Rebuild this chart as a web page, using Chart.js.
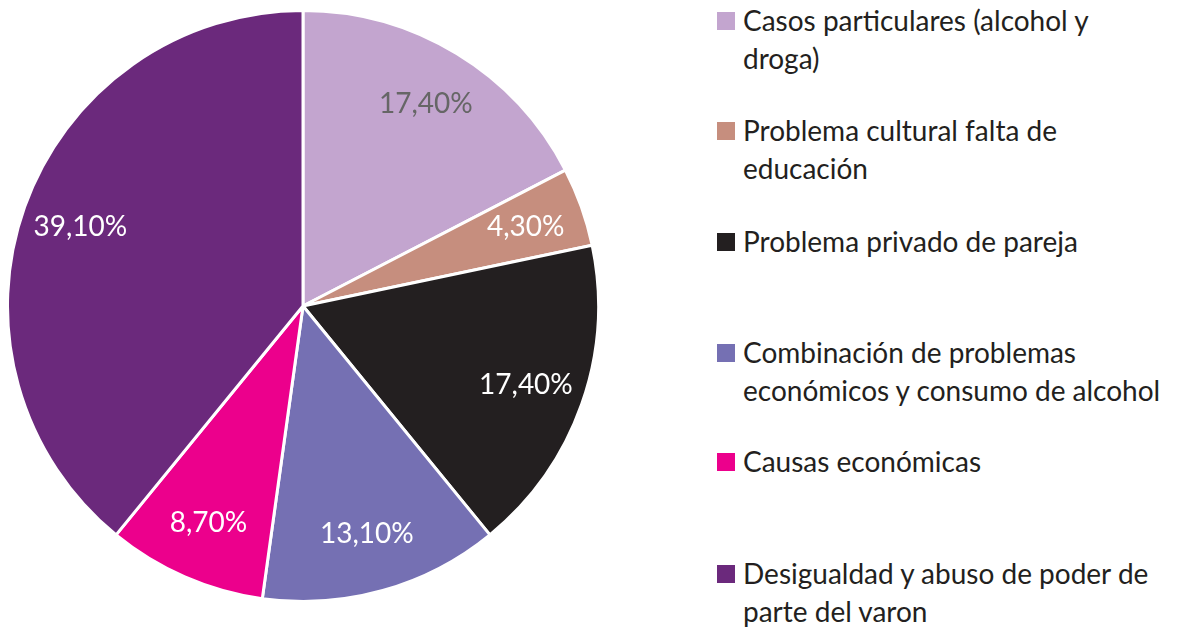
<!DOCTYPE html>
<html>
<head>
<meta charset="utf-8">
<script src="https://cdn.jsdelivr.net/npm/chart.js@4"></script>
<style>
  body { margin: 0; background: #fff; width: 1196px; height: 627px; overflow: hidden; position: relative; font-family: Lato, "Open Sans", sans-serif; }
  #wrap { position: absolute; left: 6px; top: 9px; width: 594px; height: 594px; }
  .leg { position: absolute; left: 717px; font-size: 28px; line-height: 38px; color: #231F20; width: 475px; white-space: nowrap; }
  .leg span.box { position: absolute; left: 0; top: 11px; width: 18px; height: 18px; }
  .leg div.txt { margin-left: 26px; }
</style>
</head>
<body>
<div id="wrap"><canvas id="pie"></canvas></div>
<div id="legend"></div>
<script>
// chart data
const labels = [
  "Casos particulares (alcohol y droga)",
  "Problema cultural falta de educación",
  "Problema privado de pareja",
  "Combinación de problemas económicos y consumo de alcohol",
  "Causas económicas",
  "Desigualdad y abuso de poder de parte del varon"
];
const values = [17.4, 4.3, 17.4, 13.1, 8.7, 39.1];
const colors = ["#C3A5CF", "#C68E7E", "#231F20", "#7570B3", "#EC008C", "#6B297C"];
const labelColors = ["#666666", "#ffffff", "#ffffff", "#ffffff", "#ffffff", "#ffffff"];
// legend text as broken in the picture
const legendLines = [
  ["Casos particulares (alcohol y", "droga)"],
  ["Problema cultural falta de", "educación"],
  ["Problema privado de pareja"],
  ["Combinación de problemas", "económicos y consumo de alcohol"],
  ["Causas económicas"],
  ["Desigualdad y abuso de poder de", "parte del varon"]
];
const legendTops = [1, 111, 222, 333, 442, 554];

// legend
legendLines.forEach((lines, i) => {
  const d = document.createElement("div");
  d.className = "leg";
  d.style.top = legendTops[i] + "px";
  d.innerHTML = '<span class="box" style="background:' + colors[i] + '"></span><div class="txt">' + lines.join("<br>") + "</div>";
  document.getElementById("legend").appendChild(d);
});

// slice labels
const sliceLabels = {
  id: "sliceLabels",
  afterDatasetsDraw(chart) {
    const ctx = chart.ctx;
    const meta = chart.getDatasetMeta(0);
    ctx.save();
    ctx.font = '28px Lato, "Open Sans", sans-serif';
    ctx.textAlign = "center";
    ctx.textBaseline = "middle";
    meta.data.forEach((arc, i) => {
      const p = arc.getProps(["x", "y", "startAngle", "endAngle", "outerRadius"], true);
      const mid = (p.startAngle + p.endAngle) / 2;
      const r = p.outerRadius * 0.8;
      ctx.fillStyle = labelColors[i];
      ctx.fillText(values[i].toFixed(2).replace(".", ",") + "%", p.x + Math.cos(mid) * r, p.y + Math.sin(mid) * r);
    });
    ctx.restore();
  }
};

new Chart("pie", {
  type: "pie",
  data: {
    labels: labels,
    datasets: [{
      data: values,
      backgroundColor: colors,
      borderColor: "#ffffff",
      borderWidth: 3,
      hoverOffset: 0
    }]
  },
  options: {
    responsive: true,
    maintainAspectRatio: false,
    animation: false,
    layout: { padding: 0 },
    plugins: {
      legend: { display: false },
      tooltip: { enabled: false }
    }
  },
  plugins: [sliceLabels]
});
</script>
</body>
</html>
